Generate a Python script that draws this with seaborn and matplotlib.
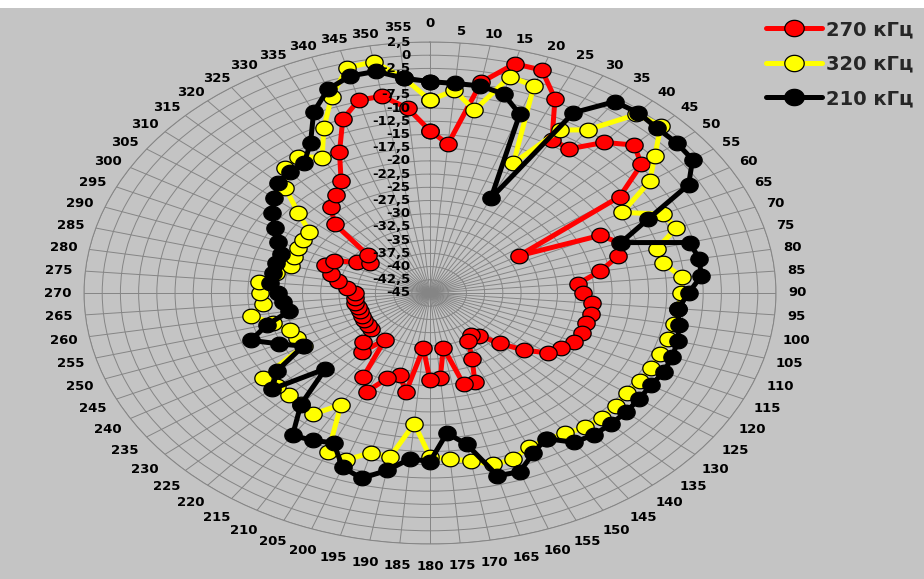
import numpy as np
import matplotlib
matplotlib.use("Agg")
import matplotlib.pyplot as plt
from matplotlib.path import Path
from matplotlib.lines import Line2D
from matplotlib.patches import Rectangle
import seaborn as sns

# Bearing of every measurement, degrees clockwise from north
angles_deg = list(range(0, 360, 5))

series_labels = ["270 кГц", "320 кГц", "210 кГц"]
series_colors = ["#ff0000", "#ffff00", "#000000"]

level_270 = [-14.3, -16.7, -4.5, -0.1, -0.1, -4.4, -11.5, -11.7, -7.8, -5.4,
             -7.1, -13.2, -30.9, -19.2, -17.3, -18.3, -21.3, -24.6, -24.0, -22.7,
             -22.6, -22.8, -22.8, -23.2, -24.2, -25.2, -28.2, -31.5, -34.5, -35.3,
             -34.5, -31.3, -27.0, -27.1, -34.5, -28.8, -28.5, -34.5, -26.0, -28.9,
             -27.8, -24.4, -26.7, -34.2, -30.4, -32.0, -34.5, -34.6, -34.6, -34.7,
             -34.8, -34.7, -34.6, -34.6, -34.7, -33.5, -32.2, -30.9, -29.7, -30.5,
             -33.4, -35.0, -33.8, -26.5, -23.8, -22.4, -20.6, -15.6, -10.0, -7.2,
             -7.2, -9.9]

level_320 = [-8.5, -6.5, -9.9, -2.6, -3.3, -17.9, -9.4, -7.3, -0.9, -0.2,
             -4.7, -8.2, -14.5, -9.7, -9.0, -12.8, -12.5, -10.3, -10.5, -10.8,
             -11.0, -11.2, -11.4, -11.5, -11.7, -12.0, -11.7, -11.6, -11.8, -12.6,
             -13.0, -12.9, -11.5, -11.4, -12.7, -13.5, -14.0, -20.2, -13.5, -13.7,
             -11.4, -11.9, -20.6, -17.0, -17.5, -17.7, -17.5, -17.0, -25.0, -24.8,
             -24.6, -22.7, -20.1, -22.0, -21.7, -21.4, -23.5, -25.2, -25.1, -25.0,
             -24.9, -24.8, -21.4, -16.9, -14.0, -13.5, -15.4, -10.5, -5.5, -0.9,
             -0.55, -4.2]

level_210 = [-5.0, -5.2, -5.2, -6.0, -9.0, -25.2, -5.6, -0.8, -0.5, -0.9,
             -0.8, -1.0, -4.0, -12.0, -17.1, -8.1, -7.5, -7.6, -9.5, -10.8,
             -10.3, -9.8, -9.6, -9.6, -10.0, -10.0, -9.9, -9.9, -10.0, -10.5,
             -13.2, -11.5, -9.0, -9.2, -15.9, -18.4, -13.1, -13.5, -10.9, -8.7,
             -9.9, -13.7, -12.8, -12.1, -17.4, -24.7, -16.7, -19.4, -24.9, -22.2,
             -18.8, -21.9, -25.4, -24.8, -24.2, -23.0, -23.1, -23.1, -23.3, -22.0,
             -20.4, -18.5, -17.1, -15.5, -15.0, -14.9, -12.2, -7.2, -4.0, -2.5,
             -2.4, -4.2]

r_min, r_max, r_step = -45.0, 2.5, 2.5

bg = "#c4c4c4"
sns.set_style("white")
plt.rcParams["font.family"] = ["DejaVu Sans"]

fig = plt.figure(figsize=(9.24, 5.79), dpi=100, facecolor=bg)
fig.patches.append(Rectangle((0, 1 - 8 / 579), 1, 8 / 579, transform=fig.transFigure,
                             facecolor="white", edgecolor="none", zorder=-1))

ax = fig.add_axes([84 / 924, 35 / 579, 692 / 924, 502 / 579], projection="polar")
ax.set_aspect("auto")
ax.set_facecolor("none")
ax.set_theta_zero_location("N")
ax.set_theta_direction(-1)
ax.set_ylim(r_min, r_max)

# grid: spokes every 5 degrees, rings every 2.5 units
ax.set_thetagrids(angles_deg, labels=[""] * len(angles_deg))
ax.tick_params(axis="x", size=0)
ring_vals = np.arange(r_min + r_step, r_max + 0.01, r_step)
ax.set_rgrids(ring_vals, labels=[""] * len(ring_vals))
ax.grid(True, color="#858585", linewidth=0.7)
ax.spines["polar"].set_color("#858585")
ax.spines["polar"].set_linewidth(0.7)

# bearing labels just outside the rim, pushed out by their own extent
label_fs = 9.5
char_w = 0.696 * label_fs      # bold digit advance, points
char_h = 0.74 * label_fs
for a in angles_deg:
    s = str(a)
    rad = np.deg2rad(a)
    sx, cy = np.sin(rad), np.cos(rad)
    gap_x = 9.0
    gap_y = 4.5 if cy > 0 else 13.0
    if a in (0, 355):
        gap_y += 5.0 if a == 0 else 3.0   # clear the ring-label column
    ox = sx * (gap_x + len(s) * char_w / 2)
    oy = cy * (gap_y + char_h / 2)
    ax.annotate(s, xy=(rad, r_max), xytext=(ox, oy), textcoords="offset points",
                ha="center", va="center", fontsize=label_fs, fontweight="bold",
                color="black", annotation_clip=False)

# ellipse-shaped marker
t = np.linspace(0, 2 * np.pi, 61)
ell_marker = Path(np.column_stack([0.5 * np.cos(t), 0.42 * np.sin(t)]))

theta_closed = np.deg2rad(angles_deg + [360])
for vals, color in zip([level_270, level_320, level_210], series_colors):
    sns.lineplot(x=theta_closed, y=vals + [vals[0]], ax=ax, sort=False, estimator=None,
                 color=color, linewidth=3.6, marker=ell_marker, markersize=12.5,
                 markerfacecolor=color, markeredgecolor="black", markeredgewidth=0.9,
                 legend=False)

# ring labels along the north spoke
for v in np.arange(r_min, r_max + 0.01, r_step):
    txt = f"{v:g}".replace(".", ",")
    ax.annotate(txt, xy=(0, v), xytext=(-14, 0), textcoords="offset points",
                ha="right", va="center", fontsize=label_fs, fontweight="bold",
                color="black", annotation_clip=False)

handles = [Line2D([], [], color=c, linewidth=3.6, marker=ell_marker, markersize=14,
                  markerfacecolor=c, markeredgecolor="black", markeredgewidth=0.9)
           for c in series_colors]
leg = fig.legend(handles, series_labels, loc="upper left",
                 bbox_to_anchor=(766 / 924, 1 - 20 / 579), frameon=False,
                 prop={"size": 14, "weight": "bold"}, handlelength=2.9,
                 handletextpad=0.2, labelspacing=0.8, borderpad=0, borderaxespad=0)

fig.savefig("out.png", dpi=100, facecolor=bg)
